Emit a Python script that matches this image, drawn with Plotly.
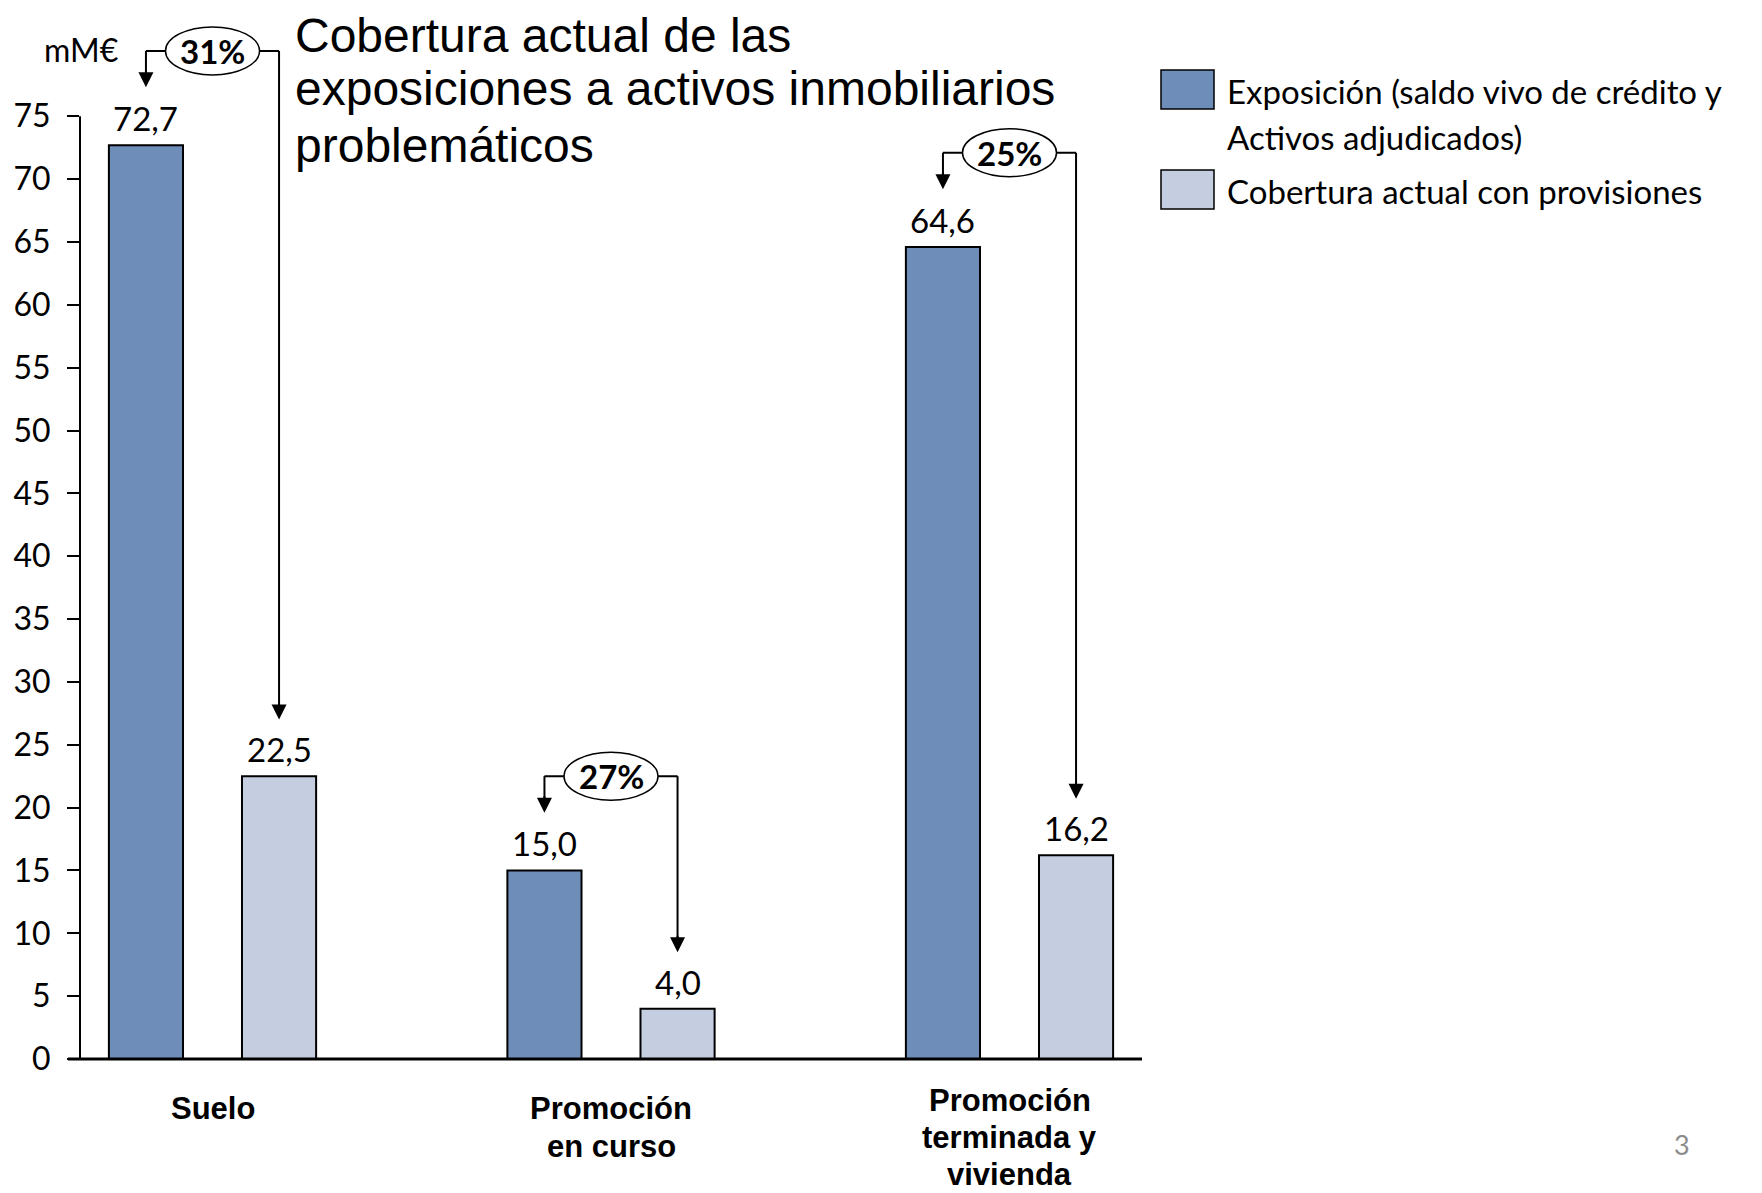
import plotly.graph_objects as go

# ---------------- data ----------------
categories = ["Suelo", "Promoción en curso", "Promoción terminada y vivienda"]
category_labels = ["Suelo", "Promoción<br>en curso", "Promoción<br>terminada y<br>vivienda"]
series_names = ["Exposición (saldo vivo de crédito y\nActivos adjudicados)",
                "Cobertura actual con provisiones"]
exposicion = [72.7, 15.0, 64.6]
cobertura = [22.5, 4.0, 16.2]
y_ticks = [0, 5, 10, 15, 20, 25, 30, 35, 40, 45, 50, 55, 60, 65, 70, 75]
title_lines = ["Cobertura actual de las",
               "exposiciones a activos inmobiliarios",
               "problemáticos"]
unit_label = "mM€"
page_number = "3"

# ---------------- style / layout ----------------
PAGE_W, PAGE_H = 1762, 1193
BODY = 8                      # default body margin of the html page
W, H = PAGE_W - BODY, PAGE_H - BODY
PLOT_LEFT, PLOT_RIGHT, PLOT_TOP, PLOT_BOTTOM = 80, 1142, 10, 1059   # page pixels
L = PLOT_LEFT - BODY
R = W - (PLOT_RIGHT - BODY)
T = PLOT_TOP - BODY
B = H - (PLOT_BOTTOM - BODY)
plot_w = W - L - R
plot_h = H - T - B
px_per_unit = 12.57
y_max = plot_h / px_per_unit
x_range = [-0.3325, 2.3325]

DARK = "#6F8DB9"
LIGHT = "#C4CEE0"
CAL = "Lato"
ARIAL = "Liberation Sans"

bar_w = 0.186
off_d = -0.167
off_l = 0.167


def px(x):
    """page pixel x -> paper coordinate"""
    return (x - PLOT_LEFT) / plot_w


def py(y):
    """page pixel y -> paper coordinate"""
    return (PLOT_BOTTOM - y) / plot_h


def fmt(v):
    return f"{v:.1f}".replace(".", ",")


fig = go.Figure()
fig.add_trace(go.Bar(x=categories, y=exposicion, width=bar_w, offset=off_d - bar_w / 2,
                     name=series_names[0].replace("\n", " "), showlegend=False,
                     marker=dict(color=DARK, line=dict(color="black", width=2))))
fig.add_trace(go.Bar(x=categories, y=cobertura, width=bar_w, offset=off_l - bar_w / 2,
                     name=series_names[1], showlegend=False,
                     marker=dict(color=LIGHT, line=dict(color="black", width=2))))

shapes = []
annotations = []

# value labels
for i, (d, c) in enumerate(zip(exposicion, cobertura)):
    for xpos, v in ((i + off_d, d), (i + off_l, c)):
        annotations.append(dict(x=xpos, y=v, xref="x", yref="y", text=fmt(v),
                                showarrow=False, xanchor="center", yanchor="bottom", yshift=5,
                                font=dict(family=CAL, size=33, color="black")))

# coverage connectors
for i, (d, c) in enumerate(zip(exposicion, cobertura)):
    xd, xl = i + off_d, i + off_l
    lvl = d + 7.5
    tip_d = d + 4.6
    tip_l = c + 4.5
    line = dict(color="black", width=2)
    shapes.append(dict(type="line", xref="x", yref="y", x0=xd, x1=xd, y0=lvl, y1=tip_d + 0.7, line=line))
    shapes.append(dict(type="line", xref="x", yref="y", x0=xd, x1=xl, y0=lvl, y1=lvl, line=line))
    shapes.append(dict(type="line", xref="x", yref="y", x0=xl, x1=xl, y0=lvl, y1=tip_l + 0.7, line=line))
    shapes.append(dict(type="circle", xref="x", yref="y", xsizemode="pixel", ysizemode="pixel",
                       xanchor=i, yanchor=lvl, x0=-47, x1=47, y0=-24, y1=24,
                       fillcolor="white", line=dict(color="black", width=1.5)))
    for xpos, tip in ((xd, tip_d), (xl, tip_l)):
        annotations.append(dict(x=xpos, y=tip, xref="x", yref="y", ax=0, ay=-18, text="",
                                showarrow=True, arrowhead=2, arrowsize=1.5, arrowwidth=2,
                                arrowcolor="black", standoff=0))
    annotations.append(dict(x=i, y=lvl, xref="x", yref="y", text=f"<b>{round(100 * c / d)}%</b>",
                            showarrow=False, xanchor="center", yanchor="middle",
                            font=dict(family=CAL, size=33, color="black")))

# category labels (one line each, tight line spacing as in the original slide)
for i, lab in enumerate(category_labels):
    lines = lab.split("<br>")
    first_base, pitch = (1119, 38.5) if len(lines) < 3 else (1111, 37)
    for k, ln in enumerate(lines):
        annotations.append(dict(x=i, y=py(first_base + pitch * k - 10.7), xref="x", yref="paper",
                                text=ln, showarrow=False, xanchor="center", yanchor="middle",
                                font=dict(family=ARIAL, size=31, color="black", weight="bold")))

# axis lines
shapes.append(dict(type="line", xref="paper", yref="paper", x0=px(68), x1=1, y0=0, y1=0,
                   line=dict(color="black", width=3)))
shapes.append(dict(type="line", xref="paper", yref="y", x0=0, x1=0, y0=0, y1=y_ticks[-1],
                   line=dict(color="black", width=2)))

# legend (drawn manually)
colors = [DARK, LIGHT]
box_tops = [70, 170]
for name, col, top in zip(series_names, colors, box_tops):
    shapes.append(dict(type="rect", xref="paper", yref="paper", x0=px(1161), x1=px(1214),
                       y0=py(top + 39), y1=py(top), fillcolor=col,
                       line=dict(color="black", width=1.5)))
    for k, ln in enumerate(name.split("\n")):
        annotations.append(dict(x=px(1225), y=py(top + 21 + 46 * k), xref="paper", yref="paper",
                                text=ln, showarrow=False, xanchor="left", yanchor="middle",
                                font=dict(family=CAL, size=33, color="black")))

# title
title_centers = [36, 89, 145]
for ln, cy in zip(title_lines, title_centers):
    annotations.append(dict(x=px(293), y=py(cy), xref="paper", yref="paper", text=ln,
                            showarrow=False, xanchor="left", yanchor="middle",
                            font=dict(family=ARIAL, size=48, color="black")))

annotations.append(dict(x=px(81), y=py(50), xref="paper", yref="paper", text=unit_label,
                        showarrow=False, xanchor="center", yanchor="middle",
                        font=dict(family=CAL, size=32, color="black")))
annotations.append(dict(x=px(1682), y=py(1144), xref="paper", yref="paper", text=page_number,
                        showarrow=False, xanchor="center", yanchor="middle",
                        font=dict(family=CAL, size=27, color="#8C8C8C")))

fig.update_layout(
    width=W, height=H,
    margin=dict(l=L, r=R, t=T, b=B, autoexpand=False),
    paper_bgcolor="white", plot_bgcolor="white",
    barmode="overlay", showlegend=False,
    shapes=shapes, annotations=annotations,
    xaxis=dict(type="category", range=x_range, tickvals=categories, ticktext=category_labels,
               showticklabels=False,
               showline=False, showgrid=False, zeroline=False, ticks=""),
    yaxis=dict(range=[0, y_max], tickvals=y_ticks, ticks="outside", ticklen=12, tickwidth=2,
               tickcolor="black", showline=False, showgrid=False, zeroline=False,
               ticklabelstandoff=10,
               tickfont=dict(family=CAL, size=32, color="black")),
)

fig.write_html("out.html")
